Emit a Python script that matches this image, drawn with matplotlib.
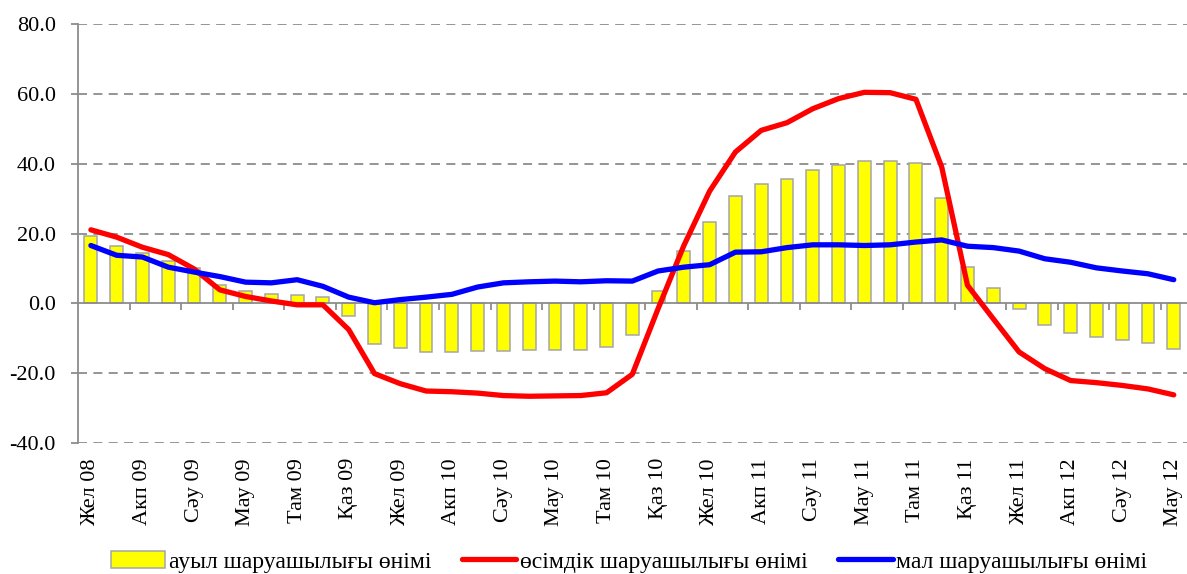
import matplotlib.pyplot as plt
import numpy as np

plt.rcParams['font.family'] = ['Liberation Serif', 'DejaVu Serif']
plt.rcParams['axes.unicode_minus'] = False

# monthly data, Dec 2008 .. Jun 2012
month_labels = ['Жел 08', 'Акп 09', 'Сәу 09', 'Мау 09', 'Там 09', 'Қаз 09',
                'Жел 09', 'Акп 10', 'Сәу 10', 'Мау 10', 'Там 10', 'Қаз 10',
                'Жел 10', 'Акп 11', 'Сәу 11', 'Мау 11', 'Там 11', 'Қаз 11',
                'Жел 11', 'Акп 12', 'Сәу 12', 'Мау 12']

agri = [19.2, 16.6, 14.5, 12.3, 10.2, 5.4, 3.7, 2.8, 2.5, 1.8,
        -3.7, -11.6, -12.8, -13.9, -13.9, -13.5, -13.5, -13.4, -13.4, -13.4,
        -12.5, -9.0, 3.5, 15.0, 23.3, 30.7, 34.3, 35.8, 38.2, 39.6,
        40.8, 40.8, 40.2, 30.1, 10.4, 4.5, -1.7, -6.1, -8.5, -9.6,
        -10.4, -11.4, -13.0]

crops = [21.1, 19.0, 16.1, 14.0, 9.9, 3.9, 2.0, 0.7, -0.4, -0.4,
         -7.5, -20.1, -23.0, -25.1, -25.3, -25.7, -26.4, -26.6, -26.5, -26.4,
         -25.6, -20.3, -1.5, 16.6, 32.2, 43.4, 49.6, 51.8, 55.8, 58.7,
         60.5, 60.4, 58.5, 39.1, 5.2, -4.4, -13.9, -18.7, -22.1, -22.7,
         -23.5, -24.5, -26.2]

livestock = [16.6, 13.8, 13.3, 10.4, 9.0, 7.7, 6.1, 5.9, 6.8, 4.9,
             1.8, 0.2, 1.1, 1.8, 2.6, 4.7, 5.9, 6.2, 6.4, 6.2,
             6.5, 6.4, 9.3, 10.4, 11.1, 14.7, 14.8, 16.0, 16.8, 16.8,
             16.6, 16.8, 17.6, 18.2, 16.4, 16.0, 15.0, 12.8, 11.8, 10.2,
             9.3, 8.5, 6.8]

series_names = ['ауыл шаруашылығы өнімі', 'өсімдік шаруашылығы өнімі',
                'мал шаруашылығы өнімі']

x = np.arange(len(agri))
grey = '#8c8c8c'

fig = plt.figure(figsize=(11.87, 5.74), dpi=100)
ax = fig.add_axes([0.0657, 0.2282, 0.934, 0.7295])

bars = ax.bar(x, agri, width=0.5, color='#ffff00', edgecolor='#a6a6a6', linewidth=1.1,
              label=series_names[0], zorder=2)
l1, = ax.plot(x, crops, color='#ff0000', lw=3.8, solid_capstyle='round',
              label=series_names[1], zorder=3)
l2, = ax.plot(x, livestock, color='#0000ff', lw=3.8, solid_capstyle='round',
              label=series_names[2], zorder=4)

ax.set_xlim(-0.5, len(x) - 0.5)
ax.set_ylim(-40, 80)
yt = np.arange(-40, 81, 20)
ax.set_yticks(yt)
ax.set_yticklabels(['%.1f' % v for v in yt], fontsize=16)
for v in yt:
    if v != 0:
        ax.axhline(v, color=grey, lw=1.3, ls=(0, (5, 3.5)), zorder=1)

ax.spines['top'].set_visible(False)
ax.spines['right'].set_visible(False)
ax.spines['left'].set_color(grey)
ax.spines['left'].set_linewidth(1.3)
ax.spines['bottom'].set_position(('data', 0))
ax.spines['bottom'].set_color(grey)
ax.spines['bottom'].set_linewidth(1.3)
ax.tick_params(axis='y', colors=grey, labelcolor='black', length=5, width=1.3, pad=11)
ax.set_xticks(np.arange(1.5, len(x) - 0.5, 2))
ax.set_xticklabels([])
ax.tick_params(axis='x', colors=grey, length=5, width=1.3, direction='out')

trans = ax.get_xaxis_transform()
for i, lab in enumerate(month_labels):
    ax.text(2 * i, -0.036, lab, transform=trans, rotation=90, ha='center',
            va='top', fontsize=16)

fig.legend([bars, l1, l2], series_names, loc='center', bbox_to_anchor=(0.53, 0.021),
           ncol=3, frameon=False, fontsize=17, handlelength=2.3, handletextpad=0.15,
           columnspacing=1.3, borderaxespad=0)

fig.savefig('out.png', dpi=100)
